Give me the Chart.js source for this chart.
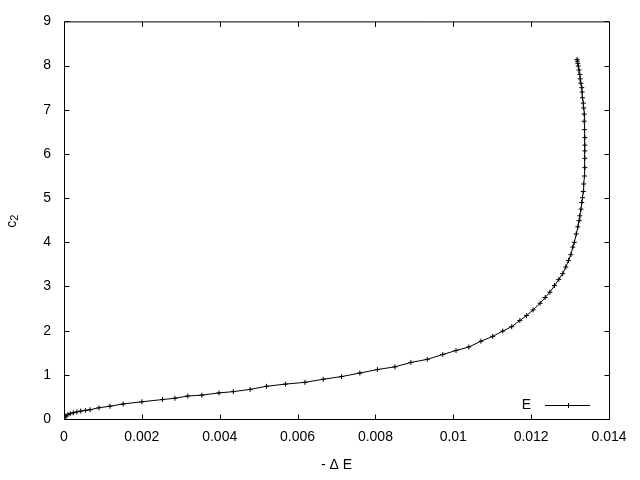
<!DOCTYPE html>
<html>
<head>
<meta charset="utf-8">
<script src="https://cdn.jsdelivr.net/npm/chart.js@4/dist/chart.umd.min.js"></script>
<style>
  html, body { margin: 0; padding: 0; background: #fff; }
</style>
</head>
<body>
<canvas id="myChart" width="640" height="480"></canvas>
<script>
// data
const seriesName = 'E';
const deltaE = [0, 0.00002, 0.00005, 0.0001, 0.00016, 0.00024, 0.00033, 0.00043, 0.00055, 0.00067,
  0.0009, 0.00118, 0.00152, 0.002, 0.00253, 0.00285, 0.00318, 0.00354, 0.00398, 0.00435,
  0.00478, 0.0052, 0.00569, 0.00619, 0.00666, 0.00713, 0.0076, 0.00805, 0.0085, 0.00891,
  0.00933, 0.00973, 0.01007, 0.0104, 0.01071, 0.01101, 0.01127, 0.0115, 0.01171, 0.01188,
  0.01205, 0.01223, 0.01236, 0.01248, 0.0126, 0.01271, 0.01281, 0.01289, 0.01296, 0.01302,
  0.01307, 0.01311, 0.01316, 0.0132, 0.01323, 0.01325, 0.01328, 0.0133, 0.01332, 0.01334,
  0.01335, 0.01337, 0.01338, 0.01338, 0.01338, 0.01338, 0.01338, 0.01337, 0.01336, 0.01336,
  0.01335, 0.01334, 0.01332, 0.01331, 0.0133, 0.01328, 0.01326, 0.01325, 0.01323, 0.01321,
  0.0132, 0.01319, 0.01318];
const c2 = [0, 0.04, 0.07, 0.1, 0.12, 0.14, 0.16, 0.18, 0.195, 0.21,
  0.255, 0.29, 0.34, 0.39, 0.44, 0.47, 0.52, 0.54, 0.59, 0.62,
  0.67, 0.74, 0.79, 0.83, 0.9, 0.96, 1.04, 1.12, 1.18, 1.28,
  1.35, 1.46, 1.55, 1.63, 1.76, 1.87, 1.99, 2.09, 2.23, 2.34,
  2.47, 2.62, 2.75, 2.87, 3.02, 3.16, 3.29, 3.44, 3.59, 3.72,
  3.89, 4.0, 4.19, 4.35, 4.49, 4.6, 4.75, 4.9, 5.01, 5.15,
  5.32, 5.5, 5.69, 5.9, 6.07, 6.2, 6.37, 6.55, 6.74, 6.9,
  7.04, 7.15, 7.27, 7.4, 7.5, 7.6, 7.7, 7.8, 7.9, 7.99,
  8.05, 8.1, 8.14];

const xTicks = [0, 0.002, 0.004, 0.006, 0.008, 0.01, 0.012, 0.014];
const xTickLabels = ['0', '0.002', '0.004', '0.006', '0.008', '0.01', '0.012', '0.014'];
const yTicks = [0, 1, 2, 3, 4, 5, 6, 7, 8, 9];
const yTickLabels = ['0', '1', '2', '3', '4', '5', '6', '7', '8', '9'];
const xTitle = '- Δ E';
const yTitleMain = 'c';
const yTitleSub = '2';

const FONT = '"Liberation Sans", Arial, sans-serif';

const points = deltaE.map((x, i) => ({ x: x, y: c2[i] }));

// gnuplot style box with inward ticks on all four sides
const framePlugin = {
  id: 'frame',
  beforeDatasetsDraw(chart) {
    const ctx = chart.ctx;
    const a = chart.chartArea;
    const xs = chart.scales.x;
    const ys = chart.scales.y;
    const tk = 5;
    ctx.save();
    ctx.strokeStyle = '#000';
    ctx.lineWidth = 1;
    ctx.beginPath();
    ctx.rect(a.left + 0.5, a.top + 0.5, a.right - a.left, a.bottom - a.top);
    xTicks.forEach(v => {
      const px = Math.round(xs.getPixelForValue(v)) + 0.5;
      ctx.moveTo(px, a.bottom + 0.5);
      ctx.lineTo(px, a.bottom + 0.5 - tk);
      ctx.moveTo(px, a.top + 0.5);
      ctx.lineTo(px, a.top + 0.5 + tk);
    });
    yTicks.forEach(v => {
      const py = Math.round(ys.getPixelForValue(v)) + 0.5;
      ctx.moveTo(a.left + 0.5, py);
      ctx.lineTo(a.left + 0.5 + tk, py);
      ctx.moveTo(a.right + 0.5, py);
      ctx.lineTo(a.right + 0.5 - tk, py);
    });
    ctx.stroke();
    ctx.restore();
  },
  afterDraw(chart) {
    const ctx = chart.ctx;
    const a = chart.chartArea;

    // y axis title with a subscript, rotated
    ctx.save();
    ctx.fillStyle = '#000';
    ctx.translate(16, (a.top + a.bottom) / 2 + 1);
    ctx.rotate(-Math.PI / 2);
    ctx.textBaseline = 'alphabetic';
    ctx.textAlign = 'left';
    ctx.font = '14px ' + FONT;
    const wMain = ctx.measureText(yTitleMain).width;
    ctx.font = '11px ' + FONT;
    const wSub = ctx.measureText(yTitleSub).width;
    const start = -(wMain + wSub) / 2;
    ctx.font = '14px ' + FONT;
    ctx.fillText(yTitleMain, start, 0);
    ctx.font = '11px ' + FONT;
    ctx.fillText(yTitleSub, start + wMain, 2);
    ctx.restore();

    // key in the lower right corner
    const y = a.bottom - 13.5;
    const x0 = a.right - 64;
    const x1 = a.right - 19;
    ctx.save();
    ctx.fillStyle = '#000';
    ctx.font = '14px ' + FONT;
    ctx.textAlign = 'right';
    ctx.textBaseline = 'middle';
    ctx.fillText(seriesName, x0 - 14, y);
    ctx.strokeStyle = '#000';
    ctx.lineWidth = 1;
    ctx.beginPath();
    ctx.moveTo(x0, y);
    ctx.lineTo(x1, y);
    const mx = Math.round((x0 + x1) / 2) + 0.5;
    ctx.moveTo(mx, y - 2.5);
    ctx.lineTo(mx, y + 2.5);
    ctx.stroke();
    ctx.restore();
  }
};

const ctx = document.getElementById('myChart');
const myChart = new Chart(ctx, {
  type: 'scatter',
  data: {
    datasets: [
      {
        label: seriesName,
        data: points,
        showLine: true,
        borderColor: '#000',
        borderWidth: 1,
        tension: 0,
        pointStyle: 'cross',
        pointRadius: 2.5,
        pointBorderWidth: 1,
        pointBorderColor: '#000',
        pointBackgroundColor: '#000'
      }
    ]
  },
  options: {
    responsive: false,
    animation: false,
    devicePixelRatio: 1,
    layout: { padding: { top: 20, right: 31, left: 0, bottom: 0 } },
    plugins: {
      legend: { display: false },
      tooltip: { enabled: false }
    },
    scales: {
      x: {
        type: 'linear',
        min: 0,
        max: 0.014,
        afterBuildTicks: scale => { scale.ticks = xTicks.map(v => ({ value: v })); },
        afterFit: scale => { scale.height = 61; },
        grid: { display: false, drawTicks: false },
        border: { display: false },
        ticks: {
          color: '#000',
          padding: 10,
          maxRotation: 0,
          autoSkip: false,
          font: { family: FONT, size: 14 },
          callback: (v, i) => xTickLabels[i]
        },
        title: {
          display: true,
          text: xTitle,
          color: '#000',
          padding: { top: 0, bottom: 6 },
          font: { family: FONT, size: 14 }
        }
      },
      y: {
        type: 'linear',
        min: 0,
        max: 9,
        afterBuildTicks: scale => { scale.ticks = yTicks.map(v => ({ value: v })); },
        afterFit: scale => { scale.width = 64; },
        grid: { display: false, drawTicks: false },
        border: { display: false },
        ticks: {
          color: '#000',
          padding: 13,
          autoSkip: false,
          font: { family: FONT, size: 14 },
          callback: (v, i) => yTickLabels[i]
        }
      }
    }
  },
  plugins: [framePlugin]
});
</script>
</body>
</html>
